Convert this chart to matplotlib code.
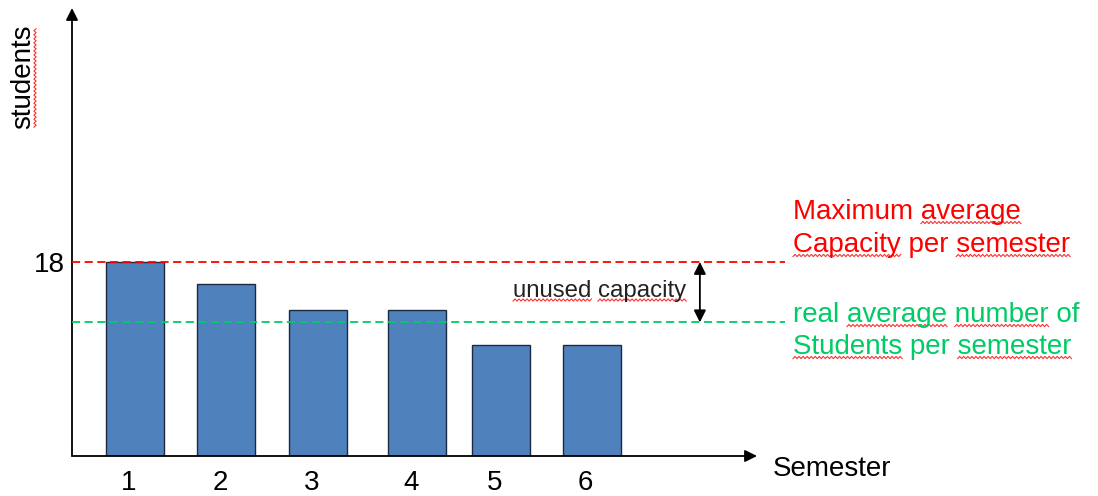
import numpy as np
import matplotlib
matplotlib.use("Agg")
import matplotlib.pyplot as plt
from matplotlib.lines import Line2D
from matplotlib.transforms import IdentityTransform, offset_copy

plt.rcParams['font.family'] = ['Liberation Sans', 'DejaVu Sans']

semesters = ['1', '2', '3', '4', '5', '6']
students = [18, 16, 13.5, 13.5, 10.3, 10.3]
max_capacity = 18
real_average = 12.4

# bar centres on the x axis (4th bar sits a little to the right)
bar_x = [1, 2, 3, 4.09, 5, 6]

W, H = 1098, 496
fig = plt.figure(figsize=(W / 100, H / 100), dpi=100)
ax = fig.add_axes([72 / W, 40 / H, 685 / W, 448 / H])

ax.bar(bar_x, students, width=0.635, color='#4F81BD', edgecolor='#1c2a40',
       linewidth=1.0, zorder=2)
ax.set_xlim(0.31, 7.805)
ax.set_ylim(0, 41.56)
for s in ax.spines.values():
    s.set_visible(False)
ax.set_xticks([])
ax.set_yticks([max_capacity], ['18'])
ax.tick_params(axis='y', length=0, labelsize=20, pad=5)

# semester numbers under the bars
lbl_tr = offset_copy(ax.get_xaxis_transform(), fig=fig, x=-6.5, y=-34, units='dots')
for xi, lab in zip(bar_x, semesters):
    ax.text(xi, 0, lab, transform=lbl_tr, ha='center', va='baseline', fontsize=20)

# axes drawn as arrows
arrow = dict(arrowstyle='-|>', color='black', lw=1.3, mutation_scale=18,
             shrinkA=0, shrinkB=0)
ax.annotate('', xy=(1, 0), xytext=(0, 0), xycoords='axes fraction',
            arrowprops=arrow, annotation_clip=False)
ax.annotate('', xy=(0, 1), xytext=(0, 0), xycoords='axes fraction',
            arrowprops=arrow, annotation_clip=False)

# capacity and average lines
red, green = '#FF0000', '#00CC66'
ax.hlines(max_capacity, 0.31, 8.11, colors=red, linestyles=(0, (4.5, 2.5)),
          lw=1.3, clip_on=False, zorder=3)
ax.hlines(real_average, 0.31, 8.11, colors=green, linestyles=(0, (4.5, 2.5)),
          lw=1.3, clip_on=False, zorder=3)
ax.annotate('', xy=(7.18, max_capacity), xytext=(7.18, real_average),
            arrowprops=dict(arrowstyle='<|-|>', color='black', lw=1.3,
                            mutation_scale=18, shrinkA=0, shrinkB=0))

unused = fig.text(513 / W, 1 - 297 / H, 'unused capacity', fontsize=17.3,
                  color='#222222', va='baseline')

red1 = fig.text(793 / W, 1 - 219 / H, 'Maximum average', fontsize=20, color=red, va='baseline')
red2 = fig.text(793 / W, 1 - 252 / H, 'Capacity per semester', fontsize=20, color=red, va='baseline')
grn1 = fig.text(793 / W, 1 - 322 / H, 'real average number of', fontsize=20, color=green, va='baseline')
grn2 = fig.text(793 / W, 1 - 354 / H, 'Students per semester', fontsize=20, color=green, va='baseline')

fig.text(773 / W, 1 - 476 / H, 'Semester', fontsize=20, va='baseline')
ylab = fig.text(23 / W, 1 - 77 / H, 'students', fontsize=20, rotation=90,
                ha='center', va='center')

# red wavy spell-check underlines
fig.canvas.draw()
rend = fig.canvas.get_renderer()


def wave(a0, a1, c, vertical=False):
    n = max(int((a1 - a0) / 2), 2)
    a = np.linspace(a0, a1, n + 1)
    b = c + np.where(np.arange(n + 1) % 2 == 0, -1.1, 1.1)
    xs, ys = (b, a) if vertical else (a, b)
    fig.add_artist(Line2D(xs, ys, transform=IdentityTransform(), color='#FF3030', lw=0.8))


def underline(txt, words, drop=3.5):
    s = txt.get_text()
    fp = txt.get_fontproperties()
    bb = txt.get_window_extent(rend)
    base = txt.get_transform().transform(txt.get_position())[1]

    def width(t):
        return rend.get_text_width_height_descent(t, fp, ismath=False)[0]

    for w in words:
        i = s.index(w)
        end = bb.x0 + width(s[:i + len(w)])
        wave(end - width(w), end, base - drop)


underline(unused, ['unused', 'capacity'], drop=3)
underline(red1, ['average'])
underline(red2, ['Capacity', 'semester'])
underline(grn1, ['average', 'number'])
underline(grn2, ['Students', 'semester'])
yb = ylab.get_window_extent(rend)
wave(yb.y0 + 2, yb.y1 - 4, yb.x1 - 1, vertical=True)

fig.savefig('out.png', dpi=100)
